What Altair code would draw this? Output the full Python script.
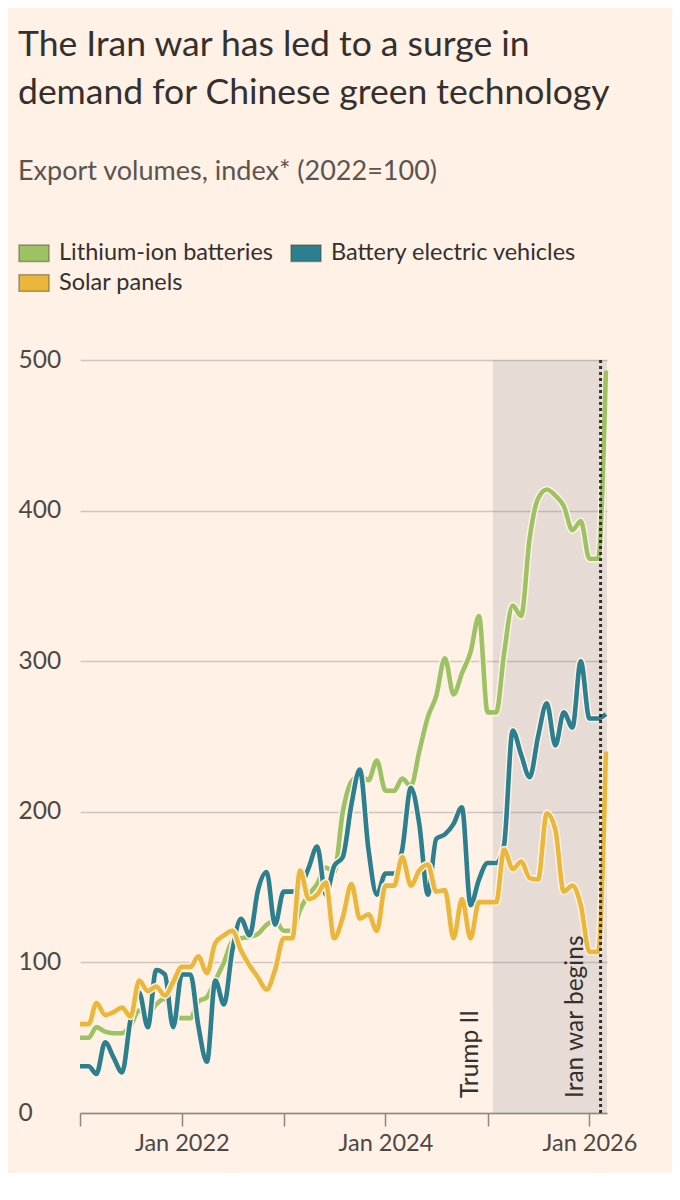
import altair as alt
import pandas as pd

# ---------------- data (monthly, Jan 2021 - Mar 2026) ----------------
start_month = "2021-01-01"
n_months = 63

lithium = [50, 50, 57, 54, 53, 53, 58, 68, 66, 72, 76, 65,
           63, 63, 74, 77, 88, 100, 114, 116, 117, 119, 125, 128,
           121, 121, 135, 145, 152, 163, 160, 200, 220, 224, 221, 234,
           214, 214, 222, 217, 240, 263, 277, 302, 278, 292, 306, 330,
           266, 266, 305, 337, 330, 382, 408, 414, 410, 403, 387, 393,
           368, 368, 493]
bev = [31, 31, 26, 47, 37, 27, 62, 80, 57, 95, 92, 57,
       92, 92, 58, 34, 88, 72, 108, 129, 118, 148, 160, 125,
       147, 147, 150, 163, 177, 145, 164, 170, 205, 228, 175, 145,
       159, 159, 175, 216, 192, 145, 182, 185, 192, 203, 138, 155,
       166, 166, 178, 254, 238, 223, 250, 272, 244, 266, 256, 300,
       262, 262, 265]
solar = [59, 59, 73, 65, 67, 70, 64, 88, 81, 84, 78, 87,
         97, 97, 104, 93, 113, 118, 121, 108, 98, 90, 82, 95,
         116, 116, 161, 142, 145, 153, 116, 130, 152, 129, 132, 121,
         151, 151, 170, 151, 161, 165, 147, 148, 116, 142, 116, 140,
         140, 140, 175, 162, 167, 156, 155, 199, 188, 147, 151, 138,
         107, 107, 240]

series_names = ["Lithium-ion batteries", "Battery electric vehicles", "Solar panels"]
series_colors = ["#9DC264", "#2C7F8E", "#EBB73A"]
series_values = [lithium, bev, solar]

events = ["Trump II", "Iran war begins"]
event_dates = ["2025-01-20T00:00:00", "2026-02-10T00:00:00"]

y_ticks = [0, 100, 200, 300, 400, 500]
x_tick_years = [2021, 2022, 2023, 2024, 2025, 2026]

# ---------------- tables ----------------
months = pd.date_range(start_month, periods=n_months, freq="MS")
rows = []
for name, vals in zip(series_names, series_values):
    for d, v in zip(months, vals):
        rows.append({"date": d.strftime("%Y-%m-%dT00:00:00"), "series": name, "value": v})
df = pd.DataFrame(rows)

shade_df = pd.DataFrame([{"start": event_dates[0], "end": "2026-03-05T00:00:00",
                          "lo": y_ticks[0], "hi": y_ticks[-1]}])
war_df = pd.DataFrame([{"date": event_dates[1], "lo": y_ticks[0], "hi": y_ticks[-1]}])
trump_df = pd.DataFrame([{"date": event_dates[0], "label": events[0], "v": 0}])
iran_df = pd.DataFrame([{"date": event_dates[1], "label": events[1], "v": 0}])

FONT = "Lato"
BG = "#FFF1E5"
TEXT = "#33302E"
GREY = "#4D4845"

x_scale = alt.Scale(domain=[alt.DateTime(year=2021, month=1, date=1),
                            alt.DateTime(year=2026, month=3, date=5)])
y_scale = alt.Scale(domain=[0, 500], nice=False)

x_axis = alt.Axis(
    values=[alt.DateTime(year=y, month=1, date=1) for y in x_tick_years],
    labelExpr="year(datum.value) % 2 == 0 ? timeFormat(datum.value, '%b %Y') : ''",
    grid=False, title=None, tickSize=13, tickColor="#8E8781", tickWidth=1.5,
    domainColor="#8E8781", domainWidth=1.5, labelFontSize=23.5, labelColor=GREY,
    labelPadding=5, labelFlush=False, labelOverlap=False,
)
y_axis = alt.Axis(
    values=y_ticks, grid=True, gridColor="#CEC5BC", gridWidth=1.5, domain=False,
    ticks=False, tickSize=0, labelAlign="left", labelPadding=62, labelFontSize=24.5,
    labelColor=GREY, labelBaseline="middle", title=None,
)

shade = alt.Chart(shade_df).mark_rect(color="#828D95", opacity=0.2).encode(
    x=alt.X("start:T", scale=x_scale, axis=x_axis), x2="end:T",
    y=alt.Y("lo:Q", scale=y_scale, axis=y_axis), y2="hi:Q",
)

war_rule = alt.Chart(war_df).mark_rule(color=TEXT, strokeWidth=3, strokeDash=[3, 3]).encode(
    x=alt.X("date:T", scale=x_scale), y=alt.Y("lo:Q", scale=y_scale), y2="hi:Q",
)

layers = [shade]
for name, col in zip(series_names, series_colors):
    sub = alt.Chart(df).transform_filter(alt.datum.series == name)
    halo = sub.mark_line(interpolate="monotone", strokeWidth=7.5, color=BG, strokeJoin="round").encode(
        x=alt.X("date:T", scale=x_scale), y=alt.Y("value:Q", scale=y_scale))
    line = sub.mark_line(interpolate="monotone", strokeWidth=4.6, color=col, strokeJoin="round").encode(
        x=alt.X("date:T", scale=x_scale), y=alt.Y("value:Q", scale=y_scale))
    layers += [halo, line]

layers.append(war_rule)

trump_txt = alt.Chart(trump_df).mark_text(
    angle=270, align="left", baseline="bottom", dx=15, dy=-10, fontSize=24.5, color=TEXT
).encode(x=alt.X("date:T", scale=x_scale), y=alt.Y("v:Q", scale=y_scale), text="label:N")
iran_txt = alt.Chart(iran_df).mark_text(
    angle=270, align="left", baseline="bottom", dx=15, dy=-13, fontSize=24.5, color=TEXT
).encode(x=alt.X("date:T", scale=x_scale), y=alt.Y("v:Q", scale=y_scale), text="label:N")
layers += [trump_txt, iran_txt]

legend_layer = alt.Chart(df).transform_filter(alt.datum.value < 0).mark_square(filled=True).encode(
    x=alt.X("date:T", scale=x_scale), y=alt.Y("value:Q", scale=y_scale),
    color=alt.Color("series:N", scale=alt.Scale(domain=series_names, range=series_colors),
                    legend=alt.Legend(
                        orient="none", legendX=-62, legendY=-123, direction="horizontal",
                        columns=2, title=None, padding=0,
                        symbolType="M-1,-0.55H1V0.55H-1Z", symbolSize=900,
                        symbolStrokeWidth=1.5, symbolStrokeColor="rgba(70,60,40,0.45)",
                        symbolOpacity=1, labelFontSize=23.5, labelColor=TEXT, labelOffset=9,
                        columnPadding=14, rowPadding=2, labelLimit=400,
                    )),
)
layers.append(legend_layer)

chart = alt.layer(*layers).properties(
    width=527, height=753,
    title=alt.TitleParams(
        text=["The Iran war has led to a surge in", "demand for Chinese green technology"],
        subtitle="Export volumes, index* (2022=100)",
        anchor="start", frame="group", dx=-62, offset=52,
        fontSize=35.5, fontWeight="normal", color=TEXT, lineHeight=48,
        subtitleFontSize=27, subtitleColor="#5A5550", subtitlePadding=48,
        font=FONT, subtitleFont=FONT,
    ),
    autosize=alt.AutoSizeParams(type="none"),
    padding={"left": 72, "top": 352, "right": 65, "bottom": 60},
).configure(
    background=BG, font=FONT,
).configure_view(stroke=None)

chart.save("out.html", embed_options={"renderer": "svg", "actions": False})
